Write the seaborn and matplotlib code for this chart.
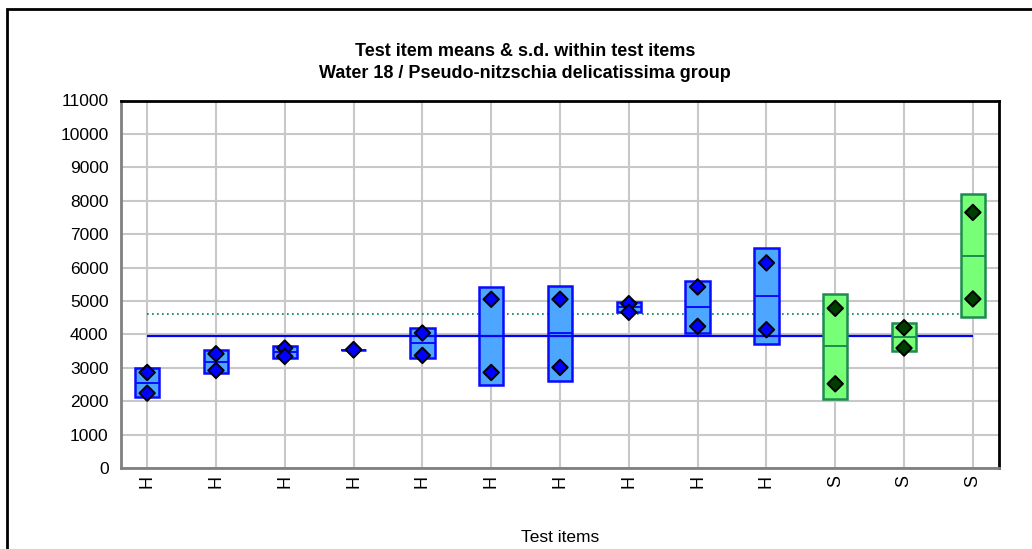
import matplotlib
matplotlib.use("Agg")
import matplotlib.pyplot as plt
from matplotlib.patches import Rectangle
import numpy as np
import pandas as pd
import seaborn as sns

# values
item_labels = ["H", "H", "H", "H", "H", "H", "H", "H", "H", "H", "S", "S", "S"]
item_means = [2550, 3180, 3470, 3540, 3740, 3950, 4030, 4820, 4820, 5150, 3650, 3930, 6350]
item_sds = [435, 350, 170, 0, 440, 1480, 1430, 140, 790, 1440, 1570, 420, 1840]
rep_high = [2860, 3420, 3590, 3540, 4040, 5050, 5050, 4920, 5420, 6140, 4780, 4200, 7650]
rep_low = [2240, 2920, 3340, 3540, 3370, 2860, 3010, 4660, 4240, 4140, 2520, 3590, 5060]
overall_mean = 3940
dotted_level = 4610

fill_colors = {"H": "#4DA6FF", "S": "#77FF77"}
edge_colors = {"H": "#0A0AFF", "S": "#1E8C50"}
dot_colors = {"H": "#0000FF", "S": "#003C00"}

df = pd.DataFrame({"pos": np.arange(len(item_labels)), "label": item_labels,
                   "mean": item_means, "sd": item_sds})
df_reps = pd.DataFrame({
    "pos": np.concatenate([df["pos"], df["pos"]]),
    "label": item_labels * 2,
    "value": rep_high + rep_low,
})

sns.set_style("white")
plt.rcParams["font.family"] = ["Liberation Sans", "DejaVu Sans"]
plt.rcParams["text.color"] = "black"
plt.rcParams["axes.labelcolor"] = "black"
plt.rcParams["xtick.labelcolor"] = "black"
plt.rcParams["ytick.labelcolor"] = "black"

fig = plt.figure(figsize=(10.32, 5.49), dpi=100)
ax = fig.add_axes([121 / 1032, 1 - 468 / 549, 878 / 1032, 367.5 / 549])

box_w = 0.353
ax.hlines(dotted_level, 0, len(df) - 1, color="#00804A", linestyles=(0, (1, 2)), lw=1.2, zorder=1.5)

for grp, z in (("H", 2), ("S", 3)):
    sub = df[df["label"] == grp]
    ax.bar(sub["pos"], 2 * sub["sd"], bottom=sub["mean"] - sub["sd"], width=box_w,
           color=fill_colors[grp], edgecolor=edge_colors[grp], linewidth=1.8, zorder=z)
    ax.hlines(sub["mean"], sub["pos"] - box_w / 2, sub["pos"] + box_w / 2,
              color=edge_colors[grp], lw=1.4, zorder=z + 0.1)

ax.hlines(overall_mean, 0, len(df) - 1, color="#0000FF", lw=1.6, zorder=2.5)

sns.scatterplot(data=df_reps, x="pos", y="value", hue="label", palette=dot_colors,
                marker="D", s=62, edgecolor="black", linewidth=1.4, legend=False,
                zorder=4, ax=ax)

ax.set_xlim(-0.38, len(df) - 1 + 0.38)
ax.set_ylim(0, 11000)
ax.set_yticks(range(0, 11001, 1000))
ax.set_xticks(df["pos"])
ax.set_xticklabels(item_labels, rotation=90)
ax.grid(True, color="#C8C8C8", lw=1.5, zorder=0)
ax.set_axisbelow(True)
ax.tick_params(axis="y", length=7, width=1.2, color="#808080", labelsize=12.5, pad=2)
ax.tick_params(axis="x", length=0, labelsize=13, pad=5)
ax.set_xlabel("Test items", fontsize=12.5, labelpad=30)
ax.set_ylabel("")
for side in ("left", "bottom"):
    ax.spines[side].set_color("#808080")
    ax.spines[side].set_linewidth(2)
for side in ("top", "right"):
    ax.spines[side].set_color("black")
    ax.spines[side].set_linewidth(2)

fig.text(525 / 1032, 1 - 51 / 549, "Test item means & s.d. within test items",
         ha="center", va="center", fontsize=13, fontweight="bold")
fig.text(525 / 1032, 1 - 73 / 549, "Water 18 / Pseudo-nitzschia delicatissima group",
         ha="center", va="center", fontsize=13, fontweight="bold")

fig.patches.append(Rectangle((6.5 / 1032, -0.1), 1.2, 1.1 - 9.5 / 549, transform=fig.transFigure,
                             fill=False, edgecolor="black", lw=2))

fig.savefig("out.png", dpi=100)
